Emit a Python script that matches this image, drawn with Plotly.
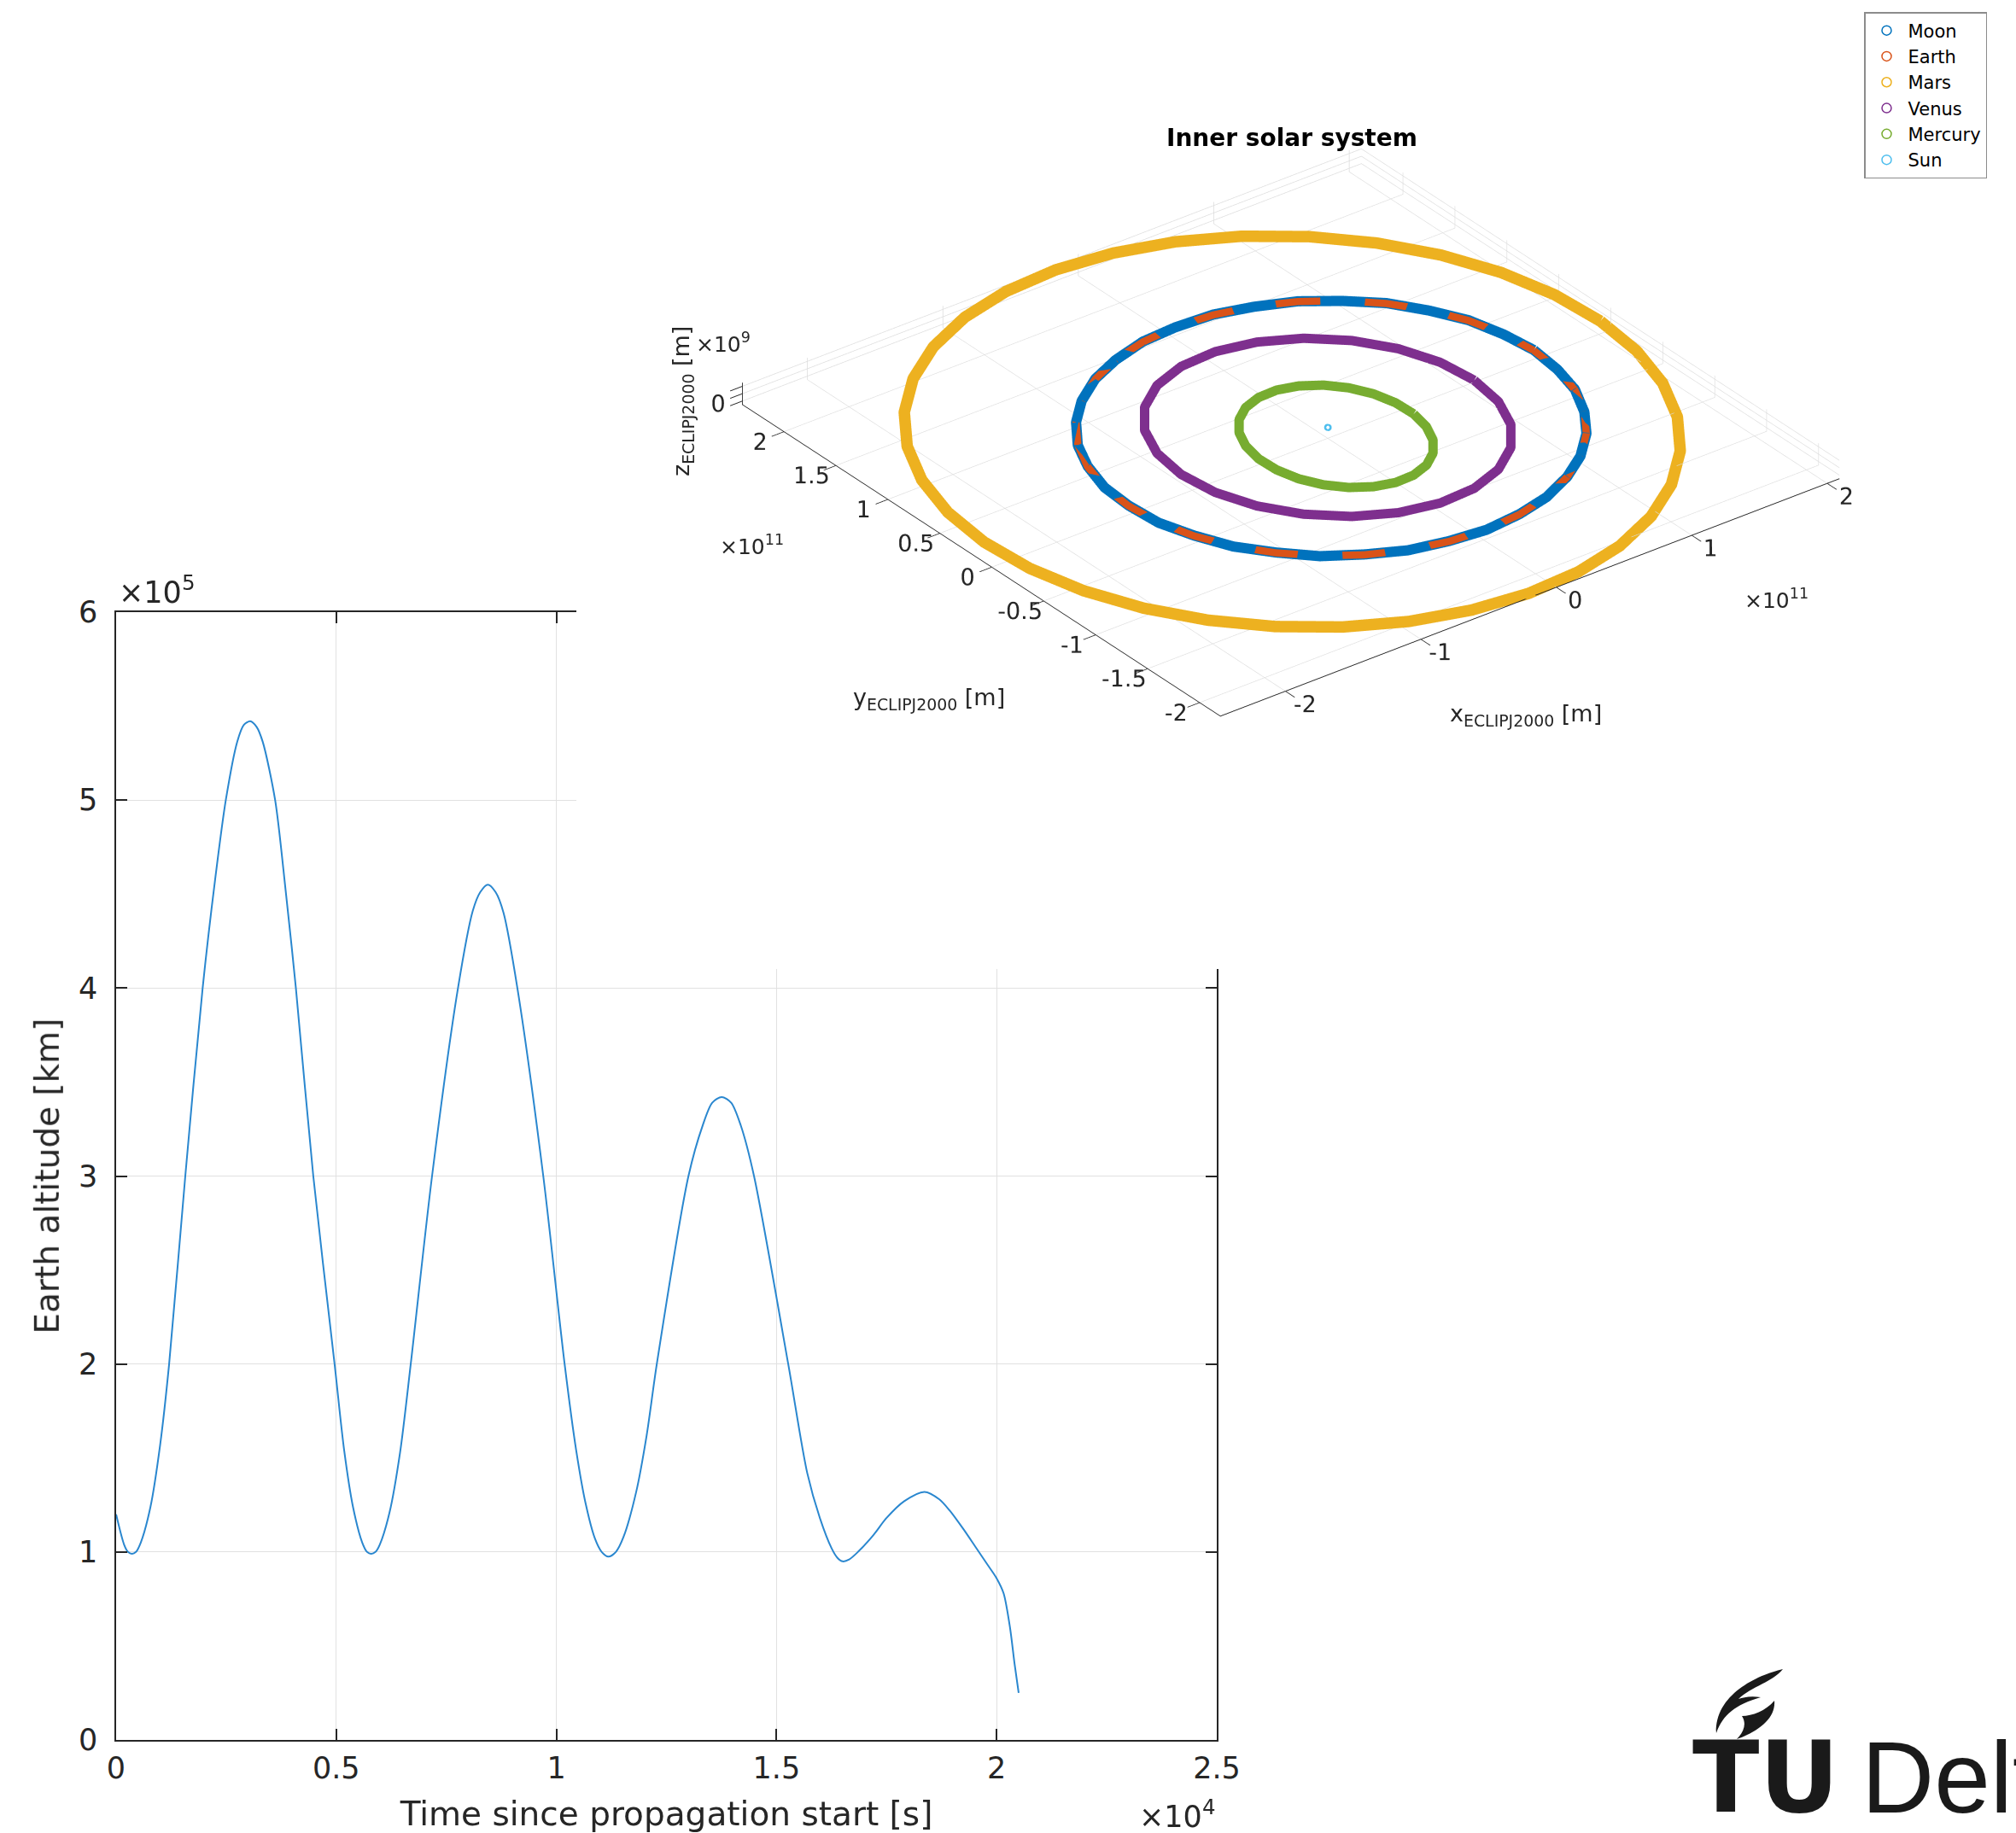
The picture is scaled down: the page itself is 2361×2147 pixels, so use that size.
import plotly.graph_objects as go

W, H = 2361, 2147


def px(x):
    return x / W


def py(y):
    return 1 - y / H


# ---------------- Earth altitude panel (2-D) ----------------
time_s = [0, 180, 270, 360, 450, 560, 780, 1000, 1204, 1571, 1965, 2250, 2491, 2750, 2900,
          3045, 3190, 3330, 3612, 3850, 4083, 4478, 4962, 5180, 5380, 5590, 5700, 5792, 5890,
          5990, 6210, 6450, 6692, 7176, 7765, 8100, 8270, 8443, 8620, 8800, 9114, 9702, 10187,
          10450, 10662, 10878, 11030, 11180, 11350, 11525, 11813, 12050, 12281, 13000, 13324,
          13540, 13755, 13970, 14187, 14489, 15266, 15698, 15986, 16250, 16380, 16504, 16650,
          16849, 17200, 17496, 17900, 18360, 18700, 18935, 19250, 19511, 19800, 20000, 20158,
          20302, 20410, 20500]
altitude_km = [120000, 104000, 100000, 99000, 100000, 105000, 124000, 157000, 200000, 300000,
               400000, 458000, 500000, 531000, 540000, 542000, 539000, 531000, 500000, 452000,
               400000, 300000, 200000, 154000, 124000, 105000, 100000, 99000, 100000, 104000,
               121000, 153000, 200000, 300000, 400000, 441000, 451000, 455000, 451000, 440000,
               400000, 300000, 200000, 154000, 126000, 107000, 100000, 97500, 100000, 108000,
               132000, 162000, 200000, 300000, 327000, 339000, 342000, 339000, 327000, 300000,
               200000, 142000, 118000, 102000, 97000, 95000, 96000, 100000, 109000, 118000,
               127000, 132000, 128000, 122000, 112000, 103000, 93000, 86000, 78000, 60000,
               40000, 25000]

t_tickvals = [0, 5000, 10000, 15000, 20000, 25000]
t_ticktext = ['0', '0.5', '1', '1.5', '2', '2.5']
alt_tickvals = [0, 100000, 200000, 300000, 400000, 500000, 600000]
alt_ticktext = ['0', '1', '2', '3', '4', '5', '6']

# ---------------- Inner solar system (3-D) ----------------
# x, y in units of 1e11 m ; z in units of 1e9 m
bodies = ['Moon', 'Earth', 'Mars', 'Venus', 'Mercury', 'Sun']
body_colors = ['#0072BD', '#D95319', '#EDB120', '#7E2F8E', '#77AC30', '#4DBEEE']

moon_x = [1.509, 1.480, 1.419, 1.303, 1.159, 0.969, 0.761, 0.519, 0.273, 0.007, -0.247, -0.505,
          -0.735, -0.955, -1.133, -1.289, -1.393, -1.466, -1.483, -1.466, -1.393, -1.289, -1.133, -0.955,
          -0.735, -0.505, -0.247, 0.007, 0.273, 0.519, 0.761, 0.969, 1.159, 1.303, 1.419, 1.480]
moon_y = [-0.017, 0.237, 0.495, 0.725, 0.945, 1.123, 1.279, 1.383, 1.456, 1.473, 1.456, 1.383,
          1.279, 1.123, 0.945, 0.725, 0.495, 0.237, -0.017, -0.283, -0.529, -0.771, -0.979, -1.169,
          -1.313, -1.429, -1.490, -1.519, -1.490, -1.429, -1.313, -1.169, -0.979, -0.771, -0.529, -0.283]
moon_z = [0.03, 0.03, -0.03, 0.03, 0.03, 0.03, -0.03, 0.03, 0.03, 0.03, 0.03, -0.03,
          0.03, 0.03, 0.03, -0.03, 0.03, 0.03, 0.03, -0.03, 0.03, 0.03, 0.03, -0.03,
          0.03, 0.03, 0.03, 0.03, -0.03, 0.03, 0.03, 0.03, -0.03, 0.03, 0.03, 0.03]

earth_x = [1.506, 1.483, 1.416, 1.306, 1.156, 0.972, 0.758, 0.522, 0.270, 0.010, -0.250, -0.502,
           -0.738, -0.952, -1.136, -1.286, -1.396, -1.463, -1.486, -1.463, -1.396, -1.286, -1.136, -0.952,
           -0.738, -0.502, -0.250, 0.010, 0.270, 0.522, 0.758, 0.972, 1.156, 1.306, 1.416, 1.483]
earth_y = [-0.020, 0.240, 0.492, 0.728, 0.942, 1.126, 1.276, 1.386, 1.453, 1.476, 1.453, 1.386,
           1.276, 1.126, 0.942, 0.728, 0.492, 0.240, -0.020, -0.280, -0.532, -0.768, -0.982, -1.166,
           -1.316, -1.426, -1.493, -1.516, -1.493, -1.426, -1.316, -1.166, -0.982, -0.768, -0.532, -0.280]
earth_z = [0.00, 0.00, 0.00, 0.00, 0.00, 0.00, 0.00, 0.00, 0.00, 0.00, 0.00, 0.00,
           0.00, 0.00, 0.00, 0.00, 0.00, 0.00, 0.00, 0.00, 0.00, 0.00, 0.00, 0.00,
           0.00, 0.00, 0.00, 0.00, 0.00, 0.00, 0.00, 0.00, 0.00, 0.00, 0.00, 0.00]

mars_x = [2.080, 2.045, 1.943, 1.775, 1.548, 1.267, 0.943, 0.583, 0.200, -0.195, -0.590, -0.973,
          -1.333, -1.657, -1.938, -2.165, -2.333, -2.435, -2.470, -2.435, -2.333, -2.165, -1.938, -1.657,
          -1.333, -0.973, -0.590, -0.195, 0.200, 0.583, 0.943, 1.267, 1.548, 1.775, 1.943, 2.045]
mars_y = [0.087, 0.482, 0.865, 1.225, 1.549, 1.830, 2.057, 2.225, 2.327, 2.362, 2.327, 2.225,
          2.057, 1.830, 1.549, 1.225, 0.865, 0.482, 0.087, -0.308, -0.691, -1.051, -1.375, -1.656,
          -1.883, -2.051, -2.153, -2.188, -2.153, -2.051, -1.883, -1.656, -1.375, -1.051, -0.691, -0.308]
mars_z = [-5.23, -4.24, -3.13, -1.92, -0.65, 0.65, 1.92, 3.13, 4.24, 5.23, 6.06, 6.71,
          7.15, 7.37, 7.37, 7.15, 6.71, 6.06, 5.23, 4.24, 3.13, 1.92, 0.65, -0.65,
          -1.92, -3.13, -4.24, -5.23, -6.06, -6.71, -7.15, -7.37, -7.37, -7.15, -6.71, -6.06]

venus_x = [1.082, 1.045, 0.937, 0.765, 0.541, 0.280, 0.000, -0.280, -0.541, -0.765, -0.937, -1.045,
           -1.082, -1.045, -0.937, -0.765, -0.541, -0.280, 0.000, 0.280, 0.541, 0.765, 0.937, 1.045]
venus_y = [0.000, 0.280, 0.541, 0.765, 0.937, 1.045, 1.082, 1.045, 0.937, 0.765, 0.541, 0.280,
           0.000, -0.280, -0.541, -0.765, -0.937, -1.045, -1.082, -1.045, -0.937, -0.765, -0.541, -0.280]
venus_z = [-6.18, -5.54, -4.53, -3.20, -1.66, 0.00, 1.66, 3.20, 4.53, 5.54, 6.18, 6.40,
           6.18, 5.54, 4.53, 3.20, 1.66, 0.00, -1.66, -3.20, -4.53, -5.54, -6.18, -6.40]

mercury_x = [0.548, 0.528, 0.471, 0.380, 0.262, 0.123, -0.025, -0.173, -0.312, -0.430, -0.521, -0.578,
             -0.598, -0.578, -0.521, -0.430, -0.312, -0.173, -0.025, 0.123, 0.262, 0.380, 0.471, 0.528]
mercury_y = [-0.113, 0.035, 0.174, 0.292, 0.383, 0.440, 0.460, 0.440, 0.383, 0.292, 0.174, 0.035,
             -0.113, -0.261, -0.400, -0.518, -0.609, -0.666, -0.686, -0.666, -0.609, -0.518, -0.400, -0.261]
mercury_z = [-5.00, -3.54, -1.83, 0.00, 1.83, 3.54, 5.00, 6.12, 6.83, 7.07, 6.83, 6.12,
             5.00, 3.54, 1.83, 0.00, -1.83, -3.54, -5.00, -6.12, -6.83, -7.07, -6.83, -6.12]

sun_x = [0.004, 0.000, -0.004, 0.000]
sun_y = [0.000, 0.005, 0.000, -0.005]
sun_z = [0.00, 0.00, 0.00, 0.00]

x3_tickvals = [-2, -1, 0, 1, 2]
x3_ticktext = ['-2', '-1', '0', '1', '2']
y3_tickvals = [-2, -1.5, -1, -0.5, 0, 0.5, 1, 1.5, 2]
y3_ticktext = ['-2', '-1.5', '-1', '-0.5', '0', '0.5', '1', '1.5', '2']
z3_tickvals = [-5, 0, 5]
z3_ticktext = ['', '0', '']

TXT = '#262626'
FONT = 'DejaVu Sans'

fig = go.Figure()

# 2-D altitude line
fig.add_trace(go.Scatter(
    x=time_s, y=altitude_km, mode='lines',
    line=dict(color='#2a87cf', width=2, shape='spline', smoothing=0.8),
    showlegend=False, hoverinfo='skip'))

# legend entries (open circles, like the original)
for name, col in zip(bodies, body_colors):
    fig.add_trace(go.Scatter(
        x=[None], y=[None], mode='markers', name=name,
        marker=dict(symbol='circle-open', size=11, color=col, line=dict(width=1.5, color=col)),
        showlegend=True))

orbits = [
    ('Earth', earth_x, earth_y, earth_z, 17),
    ('Moon', moon_x, moon_y, moon_z, 24),
    ('Mars', mars_x, mars_y, mars_z, 27),
    ('Venus', venus_x, venus_y, venus_z, 22),
    ('Mercury', mercury_x, mercury_y, mercury_z, 22),
]
col_of = dict(zip(bodies, body_colors))
for name, xs, ys, zs, w in orbits:
    fig.add_trace(go.Scatter3d(
        x=xs + xs[:1], y=ys + ys[:1], z=zs + zs[:1], mode='lines',
        line=dict(color=col_of[name], width=w),
        name=name, showlegend=False, hoverinfo='skip', scene='scene'))

fig.add_trace(go.Scatter3d(
    x=sun_x, y=sun_y, z=sun_z, mode='markers',
    marker=dict(symbol='circle-open', size=4, color=col_of['Sun'], line=dict(width=2, color=col_of['Sun'])),
    name='Sun', showlegend=False, hoverinfo='skip', scene='scene'))

axis2d = dict(showline=True, linecolor=TXT, linewidth=1.5, mirror='ticks', ticks='inside',
              ticklen=13, tickcolor=TXT, tickwidth=1.5, showgrid=True, gridcolor='#e1e1e1',
              gridwidth=1.2, zeroline=False, automargin=False,
              tickfont=dict(family=FONT, size=35, color=TXT))

k = 1.61
x_ext = 2.09 + 2.48
y_ext = 2.40 + 2.20
z_ext = 14.8 / 100.0
dirv = (-0.527, -0.687, 0.5)
cam_c = (-0.0252, -0.0507, -0.0961)

axis3d = dict(showbackground=False, showgrid=True, gridcolor='#dcdcdc', gridwidth=1.5,
              showline=True, linecolor=TXT, linewidth=2, ticks='outside', ticklen=18,
              tickcolor=TXT, tickwidth=2, zeroline=False, showspikes=False, tickangle=0,
              tickfont=dict(family=FONT, size=18, color=TXT), title=dict(text=''))

fig.update_layout(
    width=W, height=H, margin=dict(l=0, r=0, t=0, b=0, autoexpand=False),
    paper_bgcolor='white', plot_bgcolor='white',
    xaxis=dict(domain=[px(136), px(1425)], range=[0, 25000], tickvals=t_tickvals,
               ticktext=t_ticktext, ticklabelstandoff=1,
               title=dict(text='Time since propagation start [s]',
                          font=dict(family=FONT, size=39, color=TXT), standoff=25),
               **axis2d),
    yaxis=dict(domain=[py(2038), py(717)], range=[0, 600000], tickvals=alt_tickvals,
               ticktext=alt_ticktext, ticklabelstandoff=13,
               title=dict(text='Earth altitude [km]',
                          font=dict(family=FONT, size=39, color=TXT), standoff=11),
               **axis2d),
    scene=dict(
        domain=dict(x=[px(675), 1.0], y=[py(1135), 1.0]),
        bgcolor='white',
        aspectmode='manual',
        aspectratio=dict(x=k, y=k * y_ext / x_ext, z=k * z_ext / x_ext),
        camera=dict(eye=dict(x=cam_c[0] + 2 * dirv[0], y=cam_c[1] + 2 * dirv[1],
                             z=cam_c[2] + 2 * dirv[2]),
                    center=dict(x=cam_c[0], y=cam_c[1], z=cam_c[2]), up=dict(x=0, y=0, z=1),
                    projection=dict(type='orthographic')),
        xaxis=dict(range=[-2.48, 2.09], tickvals=x3_tickvals, ticktext=x3_ticktext, **axis3d),
        yaxis=dict(range=[-2.20, 2.40], tickvals=y3_tickvals, ticktext=y3_ticktext, **axis3d),
        zaxis=dict(range=[-7.4, 7.4], tickvals=z3_tickvals, ticktext=z3_ticktext, **axis3d),
    ),
    legend=dict(x=px(2183), y=py(14), xanchor='left', yanchor='top', bgcolor='white',
                bordercolor='#8c8c8c', borderwidth=1.5, itemwidth=40, tracegroupgap=0,
                font=dict(family=FONT, size=21, color='black')),
    showlegend=True,
)

annotations = [
    dict(text='\u00d710<sup>5</sup>', x=px(137), y=py(716), xanchor='left', yanchor='bottom',
         font=dict(family=FONT, size=35, color=TXT)),
    dict(text='\u00d710<sup>4</sup>', x=px(1425), y=py(2150), xanchor='right', yanchor='bottom',
         font=dict(family=FONT, size=35, color=TXT)),
    dict(text='<b>Inner solar system</b>', x=px(1513), y=py(161), xanchor='center', yanchor='middle',
         font=dict(family=FONT, size=28, color='black')),
    dict(text='x<sub>ECLIPJ2000</sub> [m]', x=px(1787), y=py(837), xanchor='center', yanchor='middle',
         font=dict(family=FONT, size=27, color=TXT)),
    dict(text='y<sub>ECLIPJ2000</sub> [m]', x=px(1088), y=py(818), xanchor='center', yanchor='middle',
         font=dict(family=FONT, size=27, color=TXT)),
    dict(text='z<sub>ECLIPJ2000</sub> [m]', x=px(800), y=py(470), xanchor='center', yanchor='middle',
         textangle=-90, font=dict(family=FONT, size=27, color=TXT)),
    dict(text='\u00d710<sup>11</sup>', x=px(880), y=py(638), xanchor='center', yanchor='middle',
         font=dict(family=FONT, size=25, color=TXT)),
    dict(text='\u00d710<sup>11</sup>', x=px(2080), y=py(701), xanchor='center', yanchor='middle',
         font=dict(family=FONT, size=25, color=TXT)),
    dict(text='\u00d710<sup>9</sup>', x=px(847), y=py(401), xanchor='center', yanchor='middle',
         font=dict(family=FONT, size=25, color=TXT)),
    dict(text='<b>TU</b>', x=px(1980), y=py(2082), xanchor='left', yanchor='middle',
         font=dict(family='DejaVu Sans', size=115, color='#1a1a1a')),
    dict(text='Delft', x=px(2178), y=py(2082), xanchor='left', yanchor='middle',
         font=dict(family='Liberation Sans', size=118, color='#1a1a1a')),
]
for a in annotations:
    a.update(xref='paper', yref='paper', showarrow=False)
fig.update_layout(annotations=annotations)


def pth(points_cmds):
    out = []
    for item in points_cmds:
        if isinstance(item, str):
            out.append(item)
        else:
            out.append('%.5f,%.5f' % (px(item[0]), py(item[1])))
    return ' '.join(out)


flame1 = pth(['M', (2088, 1955), 'C', (2058, 1962), (2008, 1985), (2010, 2030),
              'C', (2018, 2008), (2032, 1997), (2062, 1988),
              'C', (2050, 1986), (2042, 1988), (2036, 1990),
              'C', (2052, 1975), (2076, 1970), (2088, 1955), 'Z'])
flame2 = pth(['M', (2034, 2037), 'C', (2060, 2028), (2080, 2012), (2078, 1992),
              'C', (2068, 2004), (2052, 2010), (2040, 2010),
              'C', (2046, 2019), (2042, 2029), (2034, 2037), 'Z'])
fig.update_layout(shapes=[
    dict(type='path', path=flame1, xref='paper', yref='paper', fillcolor='#1a1a1a',
         line=dict(width=0), layer='above'),
    dict(type='path', path=flame2, xref='paper', yref='paper', fillcolor='#1a1a1a',
         line=dict(width=0), layer='above'),
])

fig.write_html('out.html', config={'displayModeBar': False})
